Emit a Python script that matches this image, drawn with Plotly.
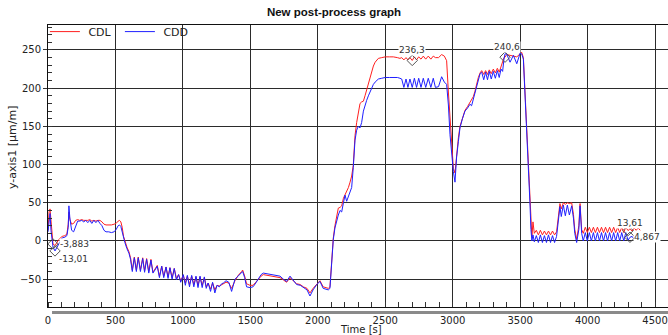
import plotly.graph_objects as go

# ---------------- data ----------------
time_s = [
    0, 8, 15, 22, 30, 37, 52, 80, 105, 125, 140, 150, 155, 162, 175, 190, 205, 220,
    235, 250, 265, 280, 295, 310, 325, 340, 355, 370, 385, 400, 415, 430, 450, 470, 490, 505, 520, 530, 540,
    550, 560, 570, 585, 600, 612, 625,
    640, 655, 669, 685, 702, 716, 731, 747, 763, 778, 793, 810, 826, 843, 858, 875, 890, 904, 920, 936,
    952, 968, 984, 1003, 1018, 1033, 1049, 1065, 1081, 1097, 1112, 1127, 1143, 1159, 1173, 1187, 1205,
    1220, 1237, 1253, 1270, 1287, 1300, 1320, 1340, 1361, 1386, 1410, 1435, 1443, 1458, 1472, 1497, 1520,
    1540, 1559, 1580, 1596, 1630, 1660, 1690, 1720, 1745, 1769, 1794, 1820, 1843, 1870, 1893, 1920, 1942,
    1965, 1992, 2016, 2040, 2065, 2078,
    2090, 2103, 2115, 2127, 2140, 2152, 2165, 2177, 2190, 2202, 2214, 2227, 2239, 2251, 2263, 2276, 2288,
    2300, 2313, 2325, 2338, 2350, 2362, 2375, 2388, 2400, 2412, 2425, 2437, 2449, 2474, 2500, 2530, 2560,
    2590, 2609,
    2622, 2638, 2654, 2668, 2683, 2700, 2716, 2732, 2748, 2765, 2782, 2800, 2819, 2838, 2856, 2872, 2895,
    2918, 2938, 2955,
    2968, 2980, 2993, 3005, 3017, 3029, 3042, 3054, 3072, 3091, 3110, 3128, 3140, 3153, 3165, 3178, 3190, 3203,
    3215, 3230, 3244, 3258, 3271, 3286, 3301, 3316, 3331, 3345, 3358, 3370, 3380, 3388, 3400, 3425, 3450,
    3475, 3500, 3511, 3524, 3536, 3548, 3561, 3572, 3580, 3587,
    3595, 3605, 3620, 3635, 3650, 3665, 3680, 3695, 3710, 3725, 3740, 3755, 3770, 3783, 3795, 3805, 3820,
    3835, 3850, 3865, 3882, 3895, 3905, 3919, 3935, 3944, 3956, 3968,
    3983, 3998, 4013, 4028, 4043, 4058, 4073, 4088, 4103, 4118, 4133, 4148, 4163, 4178, 4193, 4208, 4223,
    4238, 4253, 4268, 4283, 4300, 4314, 4330, 4345, 4360, 4375, 4390,
]

cdl = [
    14, 38, 42, 28, 10, -3.9, -6, 2, 6, 7, 9, 22, 38, 28, 22, 23, 27, 28,
    27, 28, 27, 27, 27, 28, 26, 27, 26, 27, 27, 25, 22, 21, 21, 21, 22, 23, 26, 27, 25,
    18, 6, 0, -8, -14, -22, -38,
    -21, -38, -21, -38, -22, -39, -23, -40, -24, -41, -37, -32, -46, -33, -46, -34, -47, -35, -48, -36,
    -49, -44, -52, -45, -55, -46, -57, -46, -57, -47, -58, -47, -58, -48, -60, -55, -63,
    -55, -64, -58, -59, -57, -56, -54, -55, -62, -52, -45, -40, -38, -46, -56, -58, -58,
    -54, -50, -46, -44, -45, -46, -47, -48, -51, -54, -48, -53, -56, -57, -60, -62, -68,
    -62, -57, -52, -60, -62, -62,
    -60, -22, 4, 20, 32, 43, 44, 46, 56, 60, 66, 70, 77, 85, 99, 138, 155,
    168, 180, 182, 183, 190, 198, 205, 215, 223, 229, 234, 237, 239, 240, 241, 241, 241,
    240, 239,
    240, 237, 240, 237, 240, 236.3, 241, 237, 241, 238, 242, 238, 242, 238, 242, 240, 240,
    244, 242, 236,
    195, 160, 130, 95, 89, 114, 135, 150, 162, 171, 176, 181, 184, 189, 196, 206, 214, 220,
    223, 218, 223, 218, 224, 219, 225, 220, 226, 221, 228, 232, 240, 240.6, 244, 243, 242,
    241, 245, 247, 240, 197, 150, 101, 55, 25, 5,
    25, 10, 14, 8, 14, 8, 13, 8, 13, 8, 13, 8, 12, 30, 49, 42, 50,
    48, 50, 49, 50, 35, 15, 2, 20, 49, 15, 10,
    18, 11, 18, 11, 18, 11, 18, 11, 18, 11, 18, 11, 18, 11, 18, 11, 18,
    11, 18, 11, 18, 13.61, 16, 13, 17, 14, 17, 14,
]

cdd = [
    12, 22, 36, 14, 2, -8, -13, -3, 4, 5, 7, 18, 46, 30, 14, 12, 20, 26,
    26, 27, 25, 27, 24, 27, 23, 27, 24, 27, 23, 20, 14, 12, 12, 11, 12, 15, 20, 21, 19,
    12, 3, -2, -10, -16, -24, -40,
    -22, -40, -22, -40, -23, -41, -24, -42, -25, -42, -38, -33, -48, -33, -48, -34, -49, -35, -50, -36,
    -51, -44, -54, -44, -58, -45, -60, -45, -60, -46, -61, -46, -61, -47, -62, -55, -66,
    -54, -68, -58, -60, -56, -55, -52, -54, -66, -50, -46, -42, -40, -48, -60, -61, -60,
    -55, -50, -44, -42, -43, -44, -45, -46, -50, -53, -46, -52, -57, -58, -61, -64, -72,
    -64, -57, -53, -62, -63, -64,
    -62, -25, 2, 17, 28, 34, 40, 38, 50, 60, 52, 58, 64, 70, 96, 132, 145,
    150, 148, 155, 170, 178, 184, 190, 196, 201, 205, 208, 210, 212, 213, 214, 214, 214,
    214, 213,
    212, 201, 212, 201, 212, 201, 213, 201, 213, 201, 213, 201, 213, 201, 213, 201, 202,
    215, 208, 205,
    178, 139, 110, 91, 77, 110, 130, 148, 160, 170, 174, 179, 177, 185, 192, 203, 210, 219,
    221, 211, 221, 211, 222, 212, 222, 213, 223, 214, 225, 222, 238, 245, 245, 234, 243,
    232, 246, 245, 238, 195, 148, 100, 52, 15, 0,
    8, -1, 7, -2, 8, -2, 7, -2, 8, -2, 7, -2, 6, 25, 45, 32, 47,
    33, 47, 34, 46, 30, 10, -2, 15, 46, 10, 0,
    11, 0, 11, 0, 11, 0, 11, 0, 11, 0, 11, 0, 11, 0, 11, 0, 11,
    0, 11, 0, 11, 1, 4.867, 6, 2, None, None, None,
]

# marked values
mark_t = [37, 52, 2700, 3388, 4300, 4314]
mark_v = [-3.883, -13.01, 236.3, 240.6, 13.61, 4.867]
mark_text = ["-3,883", "-13,01", "236,3", "240,6", "13,61", "4,867"]

x_ticks = [0, 500, 1000, 1500, 2000, 2500, 3000, 3500, 4000, 4500]
y_ticks = [-50, 0, 50, 100, 150, 200, 250]

# ---------------- styles ----------------
FONT = "DejaVu Sans"
GRID = "#2b2b2b"
label_style = [  # (xanchor, xshift, yshift)
    ("left", 6, 0),
    ("left", 3, -8),
    ("center", 0, 10),
    ("center", 2, 10),
    ("center", 2, 8),
    ("left", 3, 0),
]

fig = go.Figure()
fig.add_trace(go.Scatter(x=time_s, y=cdl, mode="lines", name=" CDL",
                         line=dict(color="#ff1f1f", width=1)))
fig.add_trace(go.Scatter(x=time_s, y=cdd, mode="lines", name=" CDD",
                         line=dict(color="#1f1fff", width=1), connectgaps=False))
fig.add_trace(go.Scatter(x=mark_t, y=mark_v, mode="markers", showlegend=False,
                         marker=dict(symbol="diamond-open", size=8,
                                     color="#555555", line=dict(width=1))))

for t, v, txt, (xa, xs, ys) in zip(mark_t, mark_v, mark_text, label_style):
    fig.add_annotation(x=t, y=v, xref="x", yref="y", text=txt, showarrow=False,
                       xanchor=xa, yanchor="middle", xshift=xs, yshift=ys,
                       font=dict(family=FONT, size=9, color="#333333"),
                       bgcolor="white", borderpad=0)

# axis titles as annotations
fig.add_annotation(text="y-axis1 [µm/m]", xref="paper", yref="paper", x=0, y=0.567,
                   xshift=-36, xanchor="center", yanchor="middle", textangle=-90,
                   showarrow=False, font=dict(family=FONT, size=11, color="#222"))
fig.add_annotation(text="Time [s]", xref="paper", yref="paper", x=0.505, y=0,
                   yshift=-22, xanchor="center", yanchor="middle",
                   showarrow=False, font=dict(family=FONT, size=10, color="#222"))

# gray bar under x axis
fig.add_shape(type="rect", xref="paper", yref="paper", x0=0.0065, x1=1,
              ysizemode="pixel", yanchor=0, y0=-4, y1=-7,
              fillcolor="#8a8a8a", line=dict(width=0))

fig.update_layout(
    width=668, height=335,
    margin=dict(l=48, r=0, t=25, b=28),
    paper_bgcolor="white", plot_bgcolor="white",
    font=dict(family=FONT, size=10, color="#222"),
    title=dict(text="<b>New post-process graph</b>", x=0.5, xref="container",
               y=1 - 12 / 335, yref="container", yanchor="middle", xanchor="center",
               font=dict(family="Liberation Sans", size=11.5, color="#111")),
    showlegend=True,
    legend=dict(orientation="h", x=-0.005, y=1.028, xanchor="left", yanchor="top",
                traceorder="normal", entrywidth=30, entrywidthmode="pixels",
                bgcolor="rgba(0,0,0,0)", font=dict(family=FONT, size=11, color="#222"),
                tracegroupgap=0),
    xaxis=dict(range=[0, 4596], tickvals=x_ticks, showgrid=True, gridcolor=GRID,
               gridwidth=1, zeroline=False, showline=True, linecolor="#111",
               linewidth=1, mirror=True, ticks="", ticklabelstandoff=4,
               minor=dict(dtick=100, tick0=0, ticks="inside", ticklen=5,
                          tickcolor="#333", showgrid=False)),
    yaxis=dict(range=[-86.4, 282.7], tickvals=y_ticks, showgrid=True, gridcolor=GRID,
               gridwidth=1, zeroline=False, showline=True, linecolor="#111",
               linewidth=1, ticks="outside", ticklen=4, tickcolor="#333",
               minor=dict(dtick=10, tick0=0, ticks="inside", ticklen=4,
                          tickcolor="#333", showgrid=False)),
)

fig.write_html("out.html")
